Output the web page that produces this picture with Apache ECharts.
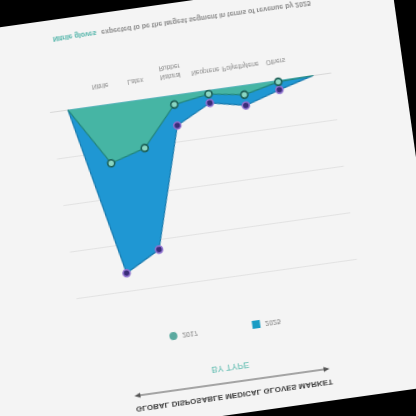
<!DOCTYPE html>
<html>
<head>
<meta charset="utf-8">
<script src="https://cdn.jsdelivr.net/npm/echarts@6/dist/echarts.min.js"></script>
<style>
  html, body { margin: 0; padding: 0; background: #000; width: 416px; height: 416px; overflow: hidden; }
  #frame { position: absolute; left: 0; top: 0; width: 416px; height: 416px;
           transform: rotate(-8deg) scaleY(-1); transform-origin: 50% 50%; }
  #paper { position: absolute; left: -40px; top: 0; width: 461px; height: 416px; background: #f4f4f4; }
  #chart { position: absolute; left: 0; top: 0; width: 416px; height: 416px; }
</style>
</head>
<body>
<div id="frame"><div id="paper"></div><div id="chart"></div></div>
<script>
// ---- data ----
const categories = ['', 'Nitrile', 'Latex', 'Natural\nRubber', 'Neoprene', 'Polyethylene', 'Others', ''];
const values2017 = [0, 12.5, 10.3, 2.0, 0.8, 2.0, 0.3, 0];
const values2025 = [0, 36.1, 32.1, 6.5, 2.7, 4.3, 2.0, 0];
const seriesNames = ['2017', '2025'];
const yMax = 40;
const yInterval = 10;
const titleText = 'GLOBAL DISPOSABLE MEDICAL GLOVES MARKET';
const subtitleText = 'BY TYPE';
const noteHighlight = 'Nitrile gloves';
const noteRest = 'expected to be the largest segment in terms of revenue by 2025';

function pts(arr) {
  return arr.map(function (v, i) {
    return (i === 0 || i === arr.length - 1) ? { value: v, symbol: 'none' } : v;
  });
}

const chart = echarts.init(document.getElementById('chart'), null, { renderer: 'canvas' });
chart.setOption({
  backgroundColor: 'transparent',
  animation: false,
  title: [
    { text: titleText, left: 'center', top: 10,
      textStyle: { fontFamily: 'Liberation Sans, Arial, sans-serif', fontSize: 8, fontWeight: 'bold', color: '#3d3d3d' } },
    { text: subtitleText, left: 'center', top: 38,
      textStyle: { fontFamily: 'Liberation Sans, Arial, sans-serif', fontSize: 9, fontWeight: 'normal', color: '#5fbcb0' } },
    { text: '{a|' + noteHighlight + '} {b|' + noteRest + '}', left: 'center', top: 383,
      textStyle: { rich: {
        a: { fontFamily: 'Liberation Sans, Arial, sans-serif', fontSize: 7, fontWeight: 'bold', color: '#4fb3a8' },
        b: { fontFamily: 'Liberation Sans, Arial, sans-serif', fontSize: 7, color: '#8a8a8a' } } } }
  ],
  graphic: [
    { type: 'line', shape: { x1: 113, y1: 32, x2: 302, y2: 32 }, style: { stroke: '#555', lineWidth: 1 } },
    { type: 'polygon', shape: { points: [[109, 32], [115, 29.5], [115, 34.5]] }, style: { fill: '#555' } },
    { type: 'polygon', shape: { points: [[306, 32], [300, 29.5], [300, 34.5]] }, style: { fill: '#555' } }
  ],
  legend: {
    left: 'center', top: 77, itemGap: 55, itemWidth: 8, itemHeight: 8,
    textStyle: { fontSize: 7, color: '#7a7a7a', fontFamily: 'Liberation Sans, Arial, sans-serif' },
    data: [
      { name: seriesNames[0], icon: 'circle', itemStyle: { color: '#5aa99f', borderWidth: 0 } },
      { name: seriesNames[1], icon: 'rect', itemStyle: { color: '#1a9cc4', borderWidth: 0 } }
    ]
  },
  grid: { left: 65.3, right: 67.8, top: 136.5, bottom: 91.5 },
  xAxis: {
    type: 'category', data: categories, boundaryGap: true,
    axisLine: { show: true, lineStyle: { color: '#d8d8d8' } },
    axisTick: { show: false },
    axisLabel: { interval: 0, margin: 15, fontSize: 6.5, lineHeight: 9, color: '#8a8a8a',
                 fontFamily: 'Liberation Sans, Arial, sans-serif' }
  },
  yAxis: {
    type: 'value', min: 0, max: yMax, interval: yInterval,
    axisLabel: { show: false }, axisLine: { show: false }, axisTick: { show: false },
    splitLine: { lineStyle: { color: '#e2e2e2', width: 1 } }
  },
  series: [
    { name: seriesNames[1], type: 'line', data: pts(values2025), z: 2,
      symbol: 'circle', symbolSize: 7,
      lineStyle: { color: '#1779ad', width: 1.2 },
      areaStyle: { color: '#1f97d3', opacity: 1 },
      itemStyle: { color: '#3a2c78', borderColor: '#8f72cf', borderWidth: 1.6 } },
    { name: seriesNames[0], type: 'line', data: pts(values2017), z: 3,
      symbol: 'circle', symbolSize: 7,
      lineStyle: { color: '#23857a', width: 1.2 },
      areaStyle: { color: '#46b5a4', opacity: 1 },
      itemStyle: { color: '#8ad6c2', borderColor: '#1c5f56', borderWidth: 1.6 } }
  ]
});
</script>
</body>
</html>
